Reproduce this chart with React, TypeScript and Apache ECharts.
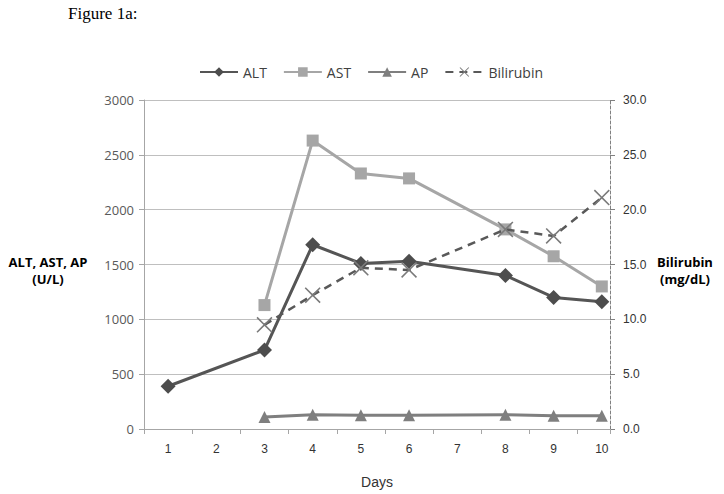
import React, { useEffect, useRef } from "react";
import * as echarts from "echarts";

const days = [1, 2, 3, 4, 5, 6, 7, 8, 9, 10];
const altValues = [390, null, 720, 1680, 1510, 1530, null, 1400, 1200, 1160];
const astValues = [null, null, 1130, 2630, 2330, 2285, null, 1820, 1575, 1300];
const apValues = [null, null, 110, 130, 125, 125, null, 130, 120, 120];
const bilirubinValues = [null, null, 9.5, 12.2, 14.7, 14.5, null, 18.2, 17.6, 21.1];

const seriesNames = ["ALT", "AST", "AP", "Bilirubin"];
const leftTitle = ["ALT, AST, AP", "(U/L)"];
const rightTitle = ["Bilirubin", "(mg/dL)"];
const xTitle = "Days";
const figureTitle = "Figure 1a:";

const crossPath =
  "path://M0,0.7L0.7,0L5,4.3L9.3,0L10,0.7L5.7,5L10,9.3L9.3,10L5,5.7L0.7,10L0,9.3L4.3,5Z";

function pairs(vals: (number | null)[]) {
  return days
    .map((d, i) => [d, vals[i]])
    .filter((p) => p[1] !== null && p[1] !== undefined);
}

function titleText(text: string, x: number, y: number) {
  return {
    type: "text",
    x,
    y,
    style: {
      text,
      fontFamily: "Open Sans",
      fontWeight: "bold",
      fontSize: 13,
      fill: "#000000",
      align: "center",
      verticalAlign: "middle",
    },
  };
}

export default function App() {
  const ref = useRef<HTMLDivElement>(null);
  useEffect(() => {
    if (!ref.current) return;
    const chart = echarts.init(ref.current, null, { renderer: "svg" });
    const axisLabelColor = "#595959";
    chart.setOption({
      animation: false,
      backgroundColor: "#ffffff",
      grid: { left: 144, right: 114, top: 100, bottom: 64, containLabel: false },
      legend: {
        left: 194,
        top: 60,
        itemWidth: 38,
        itemHeight: 12,
        itemGap: 16,
        textStyle: { fontFamily: "Open Sans", fontSize: 14, color: "#404040" },
        data: seriesNames,
      },
      xAxis: [
        {
          type: "value",
          min: 0.5,
          max: 10.17,
          minInterval: 1,
          maxInterval: 1,
          splitNumber: 10,
          position: "bottom",
          axisLine: { show: false },
          axisTick: { show: false },
          splitLine: { show: false },
          axisLabel: {
            show: true,
            showMinLabel: false,
            showMaxLabel: false,
            margin: 14,
            color: "#333333",
            fontFamily: "Liberation Sans",
            fontSize: 12,
            formatter: (v: number) => (Number.isInteger(v) ? String(v) : ""),
          },
          name: xTitle,
          nameLocation: "middle",
          nameGap: 46,
          nameTextStyle: { fontFamily: "Liberation Sans", fontSize: 14, color: "#333333" },
        },
        {
          type: "value",
          min: 0.5,
          max: 10.17,
          interval: 1,
          position: "bottom",
          axisLine: { show: true, lineStyle: { color: "#a6a6a6", width: 1 } },
          axisTick: { show: true, length: 5, lineStyle: { color: "#a6a6a6" } },
          splitLine: { show: false },
          axisLabel: { show: false },
        },
      ],
      yAxis: [
        {
          type: "value",
          min: 0,
          max: 3000,
          interval: 500,
          position: "left",
          axisLine: { show: true, lineStyle: { color: "#a6a6a6", width: 1 } },
          axisTick: { show: true, length: 5, lineStyle: { color: "#a6a6a6" } },
          splitLine: { show: true, lineStyle: { color: "#bfbfbf", width: 1 } },
          axisLabel: {
            margin: 10,
            color: axisLabelColor,
            fontFamily: "Open Sans",
            fontSize: 13,
            formatter: (v: number) => String(v),
          },
        },
        {
          type: "value",
          min: 0,
          max: 30,
          interval: 5,
          position: "right",
          axisLine: { show: true, lineStyle: { color: "#808080", width: 1, type: [3, 2] } },
          axisTick: { show: true, length: 5, lineStyle: { color: "#808080" } },
          splitLine: { show: false },
          axisLabel: {
            margin: 13,
            color: "#333333",
            fontFamily: "Liberation Sans",
            fontSize: 12,
            formatter: (v: number) => v.toFixed(1),
          },
        },
      ],
      series: [
        {
          name: seriesNames[0],
          type: "line",
          xAxisIndex: 0,
          yAxisIndex: 0,
          data: pairs(altValues),
          symbol: "diamond",
          symbolSize: 15,
          itemStyle: { color: "#4d4d4d" },
          lineStyle: { color: "#555555", width: 3 },
          z: 4,
        },
        {
          name: seriesNames[1],
          type: "line",
          xAxisIndex: 0,
          yAxisIndex: 0,
          data: pairs(astValues),
          symbol: "rect",
          symbolSize: 12,
          itemStyle: { color: "#a6a6a6" },
          lineStyle: { color: "#a6a6a6", width: 3 },
          z: 3,
        },
        {
          name: seriesNames[2],
          type: "line",
          xAxisIndex: 0,
          yAxisIndex: 0,
          data: pairs(apValues),
          symbol: "triangle",
          symbolSize: 12,
          itemStyle: { color: "#7f7f7f" },
          lineStyle: { color: "#7f7f7f", width: 3 },
          z: 3,
        },
        {
          name: seriesNames[3],
          type: "line",
          xAxisIndex: 0,
          yAxisIndex: 1,
          data: pairs(bilirubinValues),
          symbol: crossPath,
          symbolSize: 16,
          itemStyle: { color: "#7a7a7a" },
          lineStyle: { color: "#595959", width: 2.5, type: [8, 6] },
          z: 5,
        },
      ],
      graphic: [
        {
          type: "text",
          left: 68,
          top: 5,
          style: {
            text: figureTitle,
            fontFamily: "Liberation Serif",
            fontSize: 17,
            fill: "#000000",
          },
        },
        titleText(leftTitle[0], 48, 262),
        titleText(leftTitle[1], 48, 279),
        titleText(rightTitle[0], 685, 262),
        titleText(rightTitle[1], 685, 279),
      ],
    });
    return () => chart.dispose();
  }, []);
  return <div ref={ref} style={{ width: 724, height: 494, position: "absolute", left: 0, top: 0 }} />;
}
